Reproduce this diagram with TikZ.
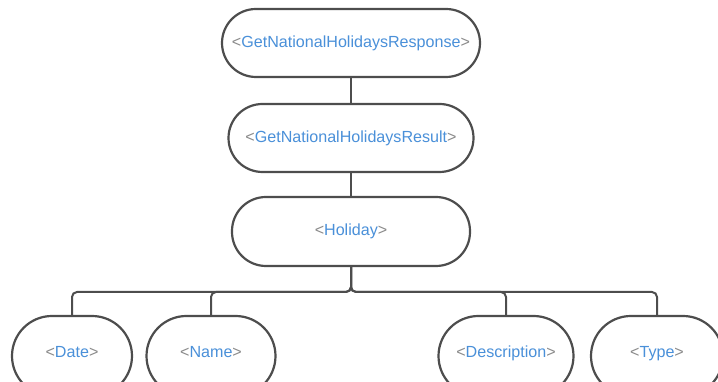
\documentclass[tikz,border=0pt]{standalone}
\usepackage{fontspec}
\setmainfont{Liberation Sans}
\definecolor{tagblue}{HTML}{4A90D9}
\definecolor{taggray}{HTML}{8A8A8A}
\definecolor{edge}{HTML}{4D4D4D}
\newcommand{\xtag}[1]{\vphantom{Ay}{\color{taggray}<}{\color{tagblue}#1}{\color{taggray}>}}
\begin{document}
\begin{tikzpicture}[x=1pt,y=1pt,
  box/.style={draw=edge,line width=2.2pt,fill=white,inner sep=0pt,
    font=\fontsize{16.1}{19}\selectfont},
  leaf/.style={box,minimum height=80pt,rounded corners=40pt},
  conn/.style={draw=edge,line width=2pt,rounded corners=5pt}]
\useasboundingbox (0,0) rectangle (718,382);
\node[box,minimum width=258pt,minimum height=68pt,rounded corners=34pt] (resp) at (351,339) {\xtag{GetNationalHolidaysResponse}};
\node[box,minimum width=245pt,minimum height=68pt,rounded corners=34pt] (res) at (351,244) {\xtag{GetNationalHolidaysResult}};
\node[box,minimum width=238pt,minimum height=69pt,rounded corners=34pt] (hol) at (351,150.5) {\xtag{Holiday}};
\node[leaf,minimum width=120pt] (date) at (72,26) {\raisebox{8pt}{\xtag{Date}}};
\node[leaf,minimum width=129pt] (name) at (211,26) {\raisebox{8pt}{\xtag{Name}}};
\node[leaf,minimum width=135pt] (desc) at (506,26) {\raisebox{8pt}{\xtag{Description}}};
\node[leaf,minimum width=132pt] (type) at (657,26) {\raisebox{8pt}{\xtag{Type}}};
\coordinate (bus) at (351,90);
\draw[conn] (resp.south) -- (res.north);
\draw[conn] (res.south) -- (hol.north);
\draw[conn] (hol.south) -- (bus) -| (date.north);
\draw[conn] (hol.south) -- (bus) -| (name.north);
\draw[conn] (hol.south) -- (bus) -| (desc.north);
\draw[conn] (hol.south) -- (bus) -| (type.north);
\end{tikzpicture}
\end{document}
